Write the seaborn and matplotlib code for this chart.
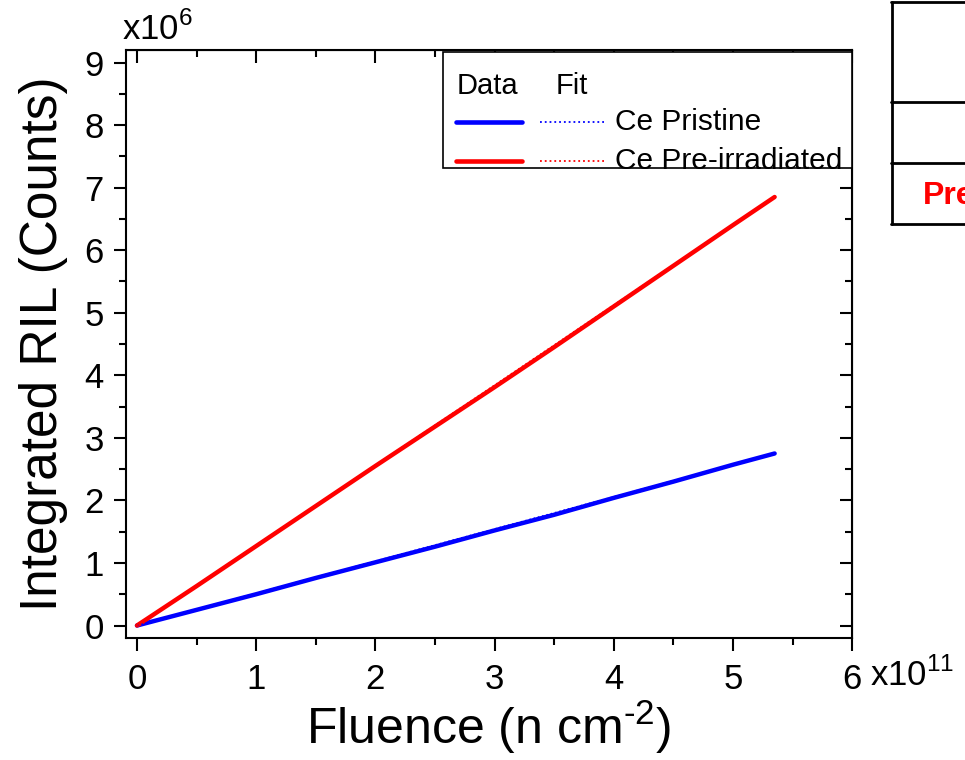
import numpy as np
import pandas as pd
import matplotlib
matplotlib.use("Agg")
import matplotlib.pyplot as plt
import seaborn as sns
from matplotlib.lines import Line2D
from matplotlib.patches import Rectangle

# data (fluence in 1e11 n/cm2, RIL in 1e6 counts)
fluence = [0.0, 0.5, 1.0, 1.5, 2.0, 2.5, 3.0, 3.5, 4.0, 4.5, 5.0, 5.35]
ril_pristine = [0.0, 0.25, 0.50, 0.76, 1.01, 1.26, 1.52, 1.77, 2.04, 2.30, 2.57, 2.75]
ril_preirr = [0.0, 0.63, 1.27, 1.91, 2.55, 3.18, 3.81, 4.45, 5.10, 5.75, 6.40, 6.85]
fit_x = [0.0, 5.35]
fit_pristine = [0.0, 2.75]
fit_preirr = [0.0, 6.85]
series_names = ["Ce Pristine", "Ce Pre-irradiated"]
series_colors = ["#0000ff", "#ff0000"]

df = pd.concat([
    pd.DataFrame({"x": fluence, "y": ril_pristine, "s": series_names[0]}),
    pd.DataFrame({"x": fluence, "y": ril_preirr, "s": series_names[1]}),
])
df_fit = pd.concat([
    pd.DataFrame({"x": fit_x, "y": fit_pristine, "s": series_names[0]}),
    pd.DataFrame({"x": fit_x, "y": fit_preirr, "s": series_names[1]}),
])

sns.set_style("ticks")
plt.rcParams['font.family'] = ['Liberation Sans', 'DejaVu Sans']
plt.rcParams['mathtext.fontset'] = 'custom'
plt.rcParams['mathtext.rm'] = 'Liberation Sans'
plt.rcParams['text.color'] = 'black'
plt.rcParams['axes.labelcolor'] = 'black'
plt.rcParams['xtick.color'] = 'black'
plt.rcParams['ytick.color'] = 'black'
plt.rcParams['axes.edgecolor'] = 'black'

fig = plt.figure(figsize=(9.65, 7.6), dpi=100)
ax = fig.add_axes([0.1306, 0.1605, 0.7524, 0.7737])
pal = dict(zip(series_names, series_colors))
sns.lineplot(data=df, x="x", y="y", hue="s", palette=pal, lw=3.2, ax=ax, legend=False)
sns.lineplot(data=df_fit, x="x", y="y", hue="s", palette=pal, lw=1.2, ls=":", ax=ax, legend=False)

ax.set_xlim(-0.092, 6.0)
ax.set_ylim(-0.2, 9.2)
ax.set_xticks(range(0, 7))
ax.set_yticks(range(0, 10))
ax.set_xticks(np.arange(0.5, 6, 1.0), minor=True)
ax.set_yticks(np.arange(0.5, 9.5, 1.0), minor=True)
ax.tick_params(which='major', direction='out', length=9, width=1.5, labelsize=25)
ax.tick_params(axis='x', which='major', pad=9)
ax.tick_params(axis='y', which='major', pad=7)
ax.tick_params(which='minor', direction='out', length=5, width=1.5)
ax.set_xticklabels(["0", "1", "2", "3", "4", "5", "6"])
for sp in ax.spines.values():
    sp.set_linewidth(1.5)
    sp.set_visible(True)

top = ax.secondary_xaxis('top')
top.set_xticks(range(0, 7))
top.set_xticks(np.arange(0.5, 6, 1.0), minor=True)
top.tick_params(which='major', direction='in', length=9, width=1.5)
top.tick_params(which='minor', direction='in', length=5, width=1.5)
top.set_xticklabels([])
right = ax.secondary_yaxis('right')
right.set_yticks(range(0, 10))
right.set_yticks(np.arange(0.5, 9.5, 1.0), minor=True)
right.tick_params(which='major', direction='in', length=9, width=1.5)
right.tick_params(which='minor', direction='in', length=5, width=1.5)
right.set_yticklabels([])

ax.set_xlabel(r"Fluence (n cm$^{\text{-2}}$)", fontsize=36, labelpad=1)
ax.set_ylabel("Integrated RIL (Counts)", fontsize=37, labelpad=12)
fig.text(0.126, 0.962, "x10$^{6}$", fontsize=25, ha='left', va='center')
fig.text(0.902, 0.112, "x10$^{11}$", fontsize=25, ha='left', va='center')

# legend drawn by hand (Data / Fit columns)
tr = ax.transAxes
ax.add_patch(Rectangle((0.437, 0.799), 0.563, 0.198, transform=tr,
                       facecolor='white', edgecolor='black', lw=1.2, zorder=5))
ax.text(0.455, 0.938, "Data", transform=tr, fontsize=21, va='center', zorder=6)
ax.text(0.592, 0.938, "Fit", transform=tr, fontsize=21, va='center', zorder=6)
for yy, name, col in zip([0.878, 0.812], series_names, series_colors):
    ax.add_line(Line2D([0.455, 0.546], [yy, yy], transform=tr, color=col, lw=3.3, zorder=6))
    ax.add_line(Line2D([0.570, 0.660], [yy, yy], transform=tr, color=col, lw=1.3, ls=':', zorder=6))
    ax.text(0.673, yy, name, transform=tr, fontsize=21.5, va='center', zorder=6)

# partially visible table at the right edge
fig.add_artist(Line2D([892/965, 892/965], [1 - 2/760, 1 - 224/760], color='black', lw=2))
for yy in [2, 102, 163, 224]:
    fig.add_artist(Line2D([891/965, 1.0], [1 - yy/760, 1 - yy/760], color='black', lw=2))
fig.text(923/965, 1 - 196/760, "Pre-irradiated", color='#ff0000', fontsize=23,
         fontweight='bold', ha='left', va='center')

fig.savefig("out.png", dpi=100)
